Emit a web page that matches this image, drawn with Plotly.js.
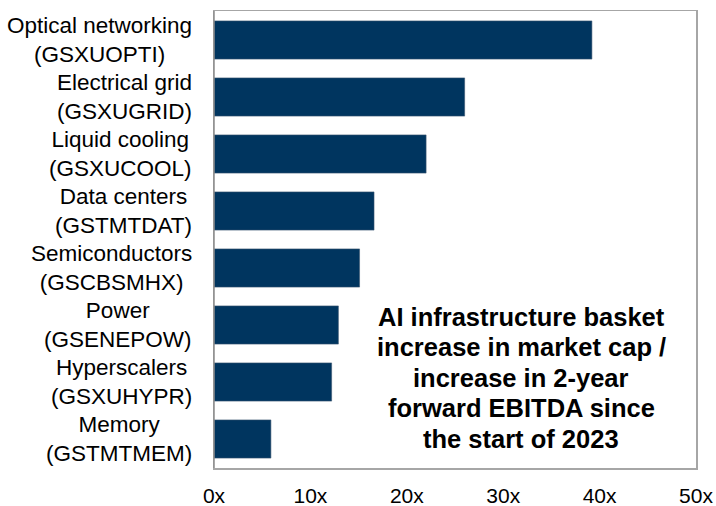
<!DOCTYPE html>
<html><head><meta charset="utf-8">
<script src="https://cdn.plot.ly/plotly-3.0.1.min.js"></script>
<style>html,body{margin:0;padding:0;background:#fff}</style>
</head><body>
<div id="chart" style="width:716px;height:506px"></div>
<script>
const categories = ["Optical networking<br>(GSXUOPTI)","Electrical grid<br>(GSXUGRID)","Liquid cooling<br>(GSXUCOOL)","Data centers<br>(GSTMTDAT)","Semiconductors<br>(GSCBSMHX)","Power<br>(GSENEPOW)","Hyperscalers<br>(GSXUHYPR)","Memory<br>(GSTMTMEM)"];
const values = [39.2, 26.0, 22.0, 16.6, 15.1, 12.9, 12.2, 5.9];
const tickValues = [0, 10, 20, 30, 40, 50];
const tickLabels = ["0x","10x","20x","30x","40x","50x"];
const noteLines = ["AI infrastructure basket","increase in market cap /","increase in 2-year","forward EBITDA since","the start of 2023"];

const font = "Arial, 'Liberation Sans', sans-serif";
const plotTop = 11, plotH = 457, plotL = 214, plotW = 482;
const anns = categories.map((c) => ({
  text: c, xref: 'paper', x: 0, xshift: -20, xanchor: 'right', align: 'center',
  yref: 'y', y: c, yanchor: 'middle', showarrow: false,
  font: {family: font, size: 22.5, color: '#000'}
}));
const noteCenterX = 521, noteFirstY = 317, noteStep = 30.4;
noteLines.forEach((t, i) => {
  anns.push({
    text: "<b>" + t + "</b>", xref: 'paper', yref: 'paper',
    x: (noteCenterX - plotL) / plotW,
    y: 1 - (noteFirstY + i * noteStep - plotTop) / plotH,
    xanchor: 'center', yanchor: 'middle', showarrow: false,
    font: {family: font, size: 25.5, color: '#000'}
  });
});

Plotly.newPlot('chart', [{
  type: 'bar', orientation: 'h', y: categories, x: values,
  marker: {color: '#00355F', line: {color: '#3a5570', width: 0.6}},
  hoverinfo: 'none'
}], {
  width: 716, height: 506,
  margin: {l: plotL, r: 716 - plotL - plotW, t: plotTop, b: 506 - plotTop - plotH},
  paper_bgcolor: '#fff', plot_bgcolor: '#fff',
  bargap: 0.33,
  showlegend: false,
  xaxis: {range: [0, 50], tickvals: tickValues, ticktext: tickLabels,
    showgrid: false, zeroline: false, showline: true, mirror: true,
    linecolor: '#a6a6a6', linewidth: 1.5, ticks: 'outside', ticklen: 8, tickcolor: 'rgba(0,0,0,0)',
    tickfont: {family: font, size: 21, color: '#000'}, fixedrange: true},
  yaxis: {autorange: 'reversed', showticklabels: false, showgrid: false, zeroline: false,
    showline: true, mirror: true, linecolor: '#a6a6a6', linewidth: 1.5, ticks: '', fixedrange: true},
  shapes: [
    {type: 'line', xref: 'paper', yref: 'paper', x0: 0, x1: 0, y0: 0, y1: 1,
     line: {color: '#8c8c8c', width: 1.5}}
  ],
  annotations: anns
}, {displayModeBar: false, staticPlot: true});
</script>
</body></html>
